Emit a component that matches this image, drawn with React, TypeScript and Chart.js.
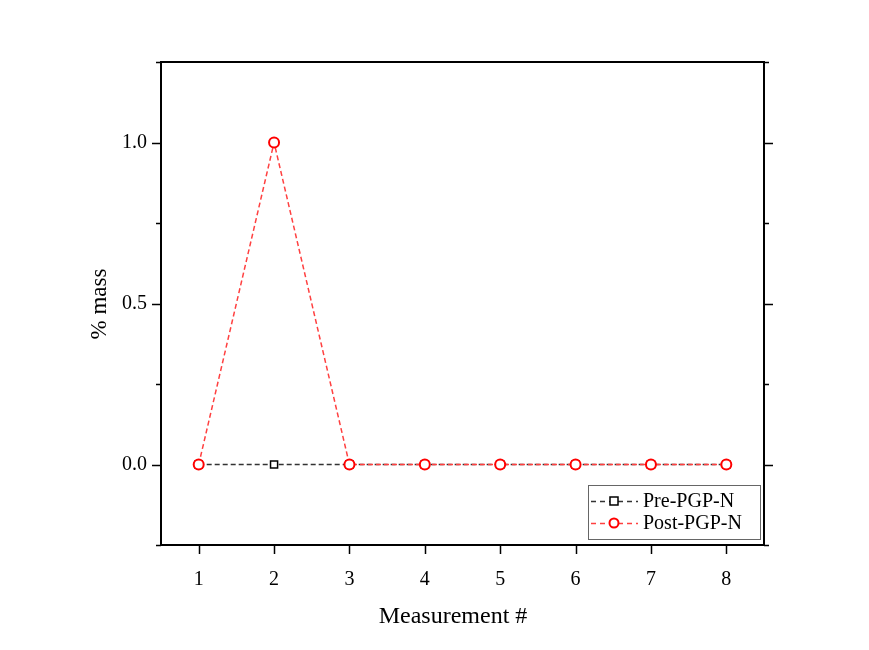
import React, { useEffect, useRef } from 'react';
import { Chart, registerables } from 'chart.js';
Chart.register(...registerables);

const measurements = [1, 2, 3, 4, 5, 6, 7, 8];
const prePGPN = [0, 0, 0, 0, 0, 0, 0, 0];
const postPGPN = [0, 1, 0, 0, 0, 0, 0, 0];
const yMajorTicks = [0, 0.5, 1.0];
const yMinorTicks = [-0.25, 0.25, 0.75, 1.25];
const seriesLabels = ['Pre-PGP-N', 'Post-PGP-N'];
const xTitle = 'Measurement #';
const yTitle = '% mass';

const FONT = "'Liberation Serif', 'Times New Roman', serif";

const framePlugin = {
  id: 'framePlugin',
  afterDraw(chart: any) {
    const ctx = chart.ctx as CanvasRenderingContext2D;
    const { left, right, top, bottom } = chart.chartArea;
    const xs = chart.scales.x;
    const ys = chart.scales.y;
    ctx.save();
    ctx.setLineDash([]);
    ctx.strokeStyle = '#000';
    ctx.lineWidth = 2;
    ctx.strokeRect(left, top, right - left, bottom - top);
    ctx.lineWidth = 1.5;
    ctx.beginPath();
    measurements.forEach((v) => {
      const px = Math.round(xs.getPixelForValue(v)) + 0.5;
      ctx.moveTo(px, bottom);
      ctx.lineTo(px, bottom + 9);
    });
    yMajorTicks.forEach((v) => {
      const py = Math.round(ys.getPixelForValue(v)) + 0.5;
      ctx.moveTo(left, py);
      ctx.lineTo(left - 9, py);
      ctx.moveTo(right, py);
      ctx.lineTo(right + 9, py);
    });
    yMinorTicks.forEach((v) => {
      const py = Math.round(ys.getPixelForValue(v)) + 0.5;
      ctx.moveTo(left, py);
      ctx.lineTo(left - 5, py);
      ctx.moveTo(right, py);
      ctx.lineTo(right + 5, py);
    });
    ctx.stroke();

    // axis titles
    ctx.fillStyle = '#000';
    ctx.textAlign = 'center';
    ctx.textBaseline = 'middle';
    ctx.font = `24px ${FONT}`;
    ctx.fillText(xTitle, 453, 617);
    ctx.save();
    ctx.font = `23px ${FONT}`;
    ctx.translate(100, 304);
    ctx.rotate(-Math.PI / 2);
    ctx.fillText(yTitle, 0, 0);
    ctx.restore();

    // legend
    const lx = 588, ly = 485, lw = 172, lh = 54;
    ctx.fillStyle = '#fff';
    ctx.fillRect(lx, ly, lw, lh);
    ctx.strokeStyle = '#666';
    ctx.lineWidth = 1;
    ctx.strokeRect(lx + 0.5, ly + 0.5, lw, lh);
    chart.data.datasets.forEach((ds: any, i: number) => {
      const cy = ly + 16 + i * 22;
      ctx.strokeStyle = ds.borderColor;
      ctx.lineWidth = 1.3;
      ctx.setLineDash([5, 4]);
      ctx.beginPath();
      ctx.moveTo(lx + 3, cy + 0.5);
      ctx.lineTo(lx + 50, cy + 0.5);
      ctx.stroke();
      ctx.setLineDash([]);
      const mx = lx + 26;
      ctx.fillStyle = '#fff';
      ctx.strokeStyle = ds.pointBorderColor;
      ctx.lineWidth = ds.pointBorderWidth;
      ctx.beginPath();
      if (ds.pointStyle === 'rect') {
        ctx.rect(mx - 4, cy - 4, 8, 8);
      } else {
        ctx.arc(mx, cy, 4.5, 0, Math.PI * 2);
      }
      ctx.fill();
      ctx.stroke();
      ctx.fillStyle = '#000';
      ctx.font = `20px ${FONT}`;
      ctx.textAlign = 'left';
      ctx.textBaseline = 'middle';
      ctx.fillText(ds.label, lx + 55, cy + 1);
    });
    ctx.restore();
  },
};

export default function App() {
  const ref = useRef<HTMLCanvasElement | null>(null);
  useEffect(() => {
    if (!ref.current) return;
    const chart = new Chart(ref.current, {
      type: 'line',
      data: {
        datasets: [
          {
            label: seriesLabels[0],
            data: measurements.map((x, i) => ({ x, y: prePGPN[i] })),
            borderColor: '#333333',
            borderWidth: 1.4,
            borderDash: [5, 3],
            pointStyle: 'rect',
            pointRadius: 5,
            pointBorderColor: '#000000',
            pointBackgroundColor: '#ffffff',
            pointBorderWidth: 1.5,
            tension: 0,
            order: 2,
          },
          {
            label: seriesLabels[1],
            data: measurements.map((x, i) => ({ x, y: postPGPN[i] })),
            borderColor: '#ff4040',
            borderWidth: 1.5,
            borderDash: [5, 3],
            pointStyle: 'circle',
            pointRadius: 5,
            pointBorderColor: '#ff0000',
            pointBackgroundColor: '#ffffff',
            pointBorderWidth: 2,
            tension: 0,
            order: 1,
          },
        ],
      },
      options: {
        animation: false,
        responsive: false,
        maintainAspectRatio: false,
        devicePixelRatio: 1,
        layout: { padding: { top: 62, right: 105, left: 0, bottom: 0 } },
        plugins: { legend: { display: false }, tooltip: { enabled: false } },
        scales: {
          x: {
            type: 'linear',
            min: 0.5,
            max: 8.5,
            grid: { display: false, drawTicks: false, tickLength: 0 },
            border: { display: false },
            afterBuildTicks: (s: any) => {
              s.ticks = measurements.map((v) => ({ value: v }));
            },
            afterFit: (s: any) => {
              s.height = 105;
            },
            ticks: {
              color: '#000',
              font: { family: FONT, size: 20 },
              padding: 23,
              maxRotation: 0,
              callback: (v: any) => String(v),
            },
          },
          y: {
            type: 'linear',
            min: -0.25,
            max: 1.25,
            grid: { display: false, drawTicks: false, tickLength: 0 },
            border: { display: false },
            afterBuildTicks: (s: any) => {
              s.ticks = yMajorTicks.map((v) => ({ value: v }));
            },
            afterFit: (s: any) => {
              s.width = 161;
            },
            ticks: {
              color: '#000',
              font: { family: FONT, size: 20 },
              padding: 14,
              callback: (v: any) => Number(v).toFixed(1),
            },
          },
        },
      },
      plugins: [framePlugin],
    });
    return () => chart.destroy();
  }, []);
  return (
    <div style={{ position: 'fixed', left: 0, top: 0, width: 869, height: 650, background: '#fff' }}>
      <canvas ref={ref} width={869} height={650} style={{ width: 869, height: 650 }} />
    </div>
  );
}
